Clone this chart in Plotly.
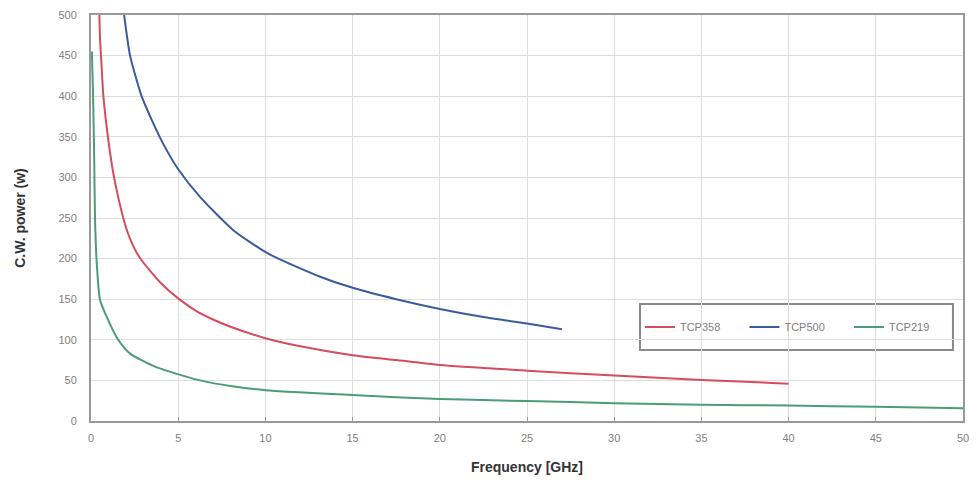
import plotly.graph_objects as go

# TCP500 (blue)
f_500 = [1.9, 2.24, 2.9, 3.5, 4.15, 5.0, 6.25, 8.16, 10.17, 13.1, 15, 17.5, 20, 22.5, 25, 27]
p_500 = [500, 450, 400, 370, 341, 310, 276, 235, 206, 178, 164, 150, 138, 128, 120, 113]

# TCP358 (red)
f_358 = [0.48, 0.52, 0.6, 0.71, 1.0, 1.28, 1.6, 1.85, 2.14, 2.5, 2.9, 4, 5, 6, 7, 8, 10, 12, 15, 17.5, 20, 25, 30, 35, 40]
p_358 = [500, 470, 440, 400, 345, 305, 272, 250, 230, 212, 198, 170, 151, 136, 125, 116, 102, 92, 81, 75, 69, 62, 56, 50.5, 46]

# TCP219 (green)
f_219 = [0.05, 0.12, 0.18, 0.23, 0.32, 0.52, 0.99, 1.56, 2.24, 3.67, 5.4, 6.25, 8, 10, 15, 20, 25, 30, 35, 40, 45, 50]
p_219 = [455, 400, 330, 250, 198, 149, 124, 100, 83, 67, 55, 50, 43, 38, 32, 27, 24.6, 22, 20, 19, 17.5, 15.6]

x_ticks = [0, 5, 10, 15, 20, 25, 30, 35, 40, 45, 50]
y_ticks = [0, 50, 100, 150, 200, 250, 300, 350, 400, 450, 500]

fig = go.Figure()
fig.add_trace(go.Scatter(x=f_358, y=p_358, mode="lines", name="TCP358",
                         line=dict(color="#d64c5e", width=2, shape="spline", smoothing=0.6)))
fig.add_trace(go.Scatter(x=f_500, y=p_500, mode="lines", name="TCP500",
                         line=dict(color="#3b5c9c", width=2, shape="spline", smoothing=0.6)))
fig.add_trace(go.Scatter(x=f_219, y=p_219, mode="lines", name="TCP219",
                         line=dict(color="#4c9c78", width=2, shape="spline", smoothing=0.6)))

# legend frame
fig.add_shape(type="rect", xref="paper", yref="paper",
              x0=0.6296, x1=0.9885, y0=0.175, y1=0.288,
              line=dict(color="#8a8a8a", width=2), fillcolor="white", layer="between")

fig.update_layout(
    width=980, height=488,
    margin=dict(l=91, r=17, t=15, b=67, autoexpand=False),
    paper_bgcolor="white", plot_bgcolor="white",
    font=dict(family="Liberation Sans, Arial, sans-serif", size=11, color="#808080"),
    showlegend=True,
    legend=dict(orientation="h", x=0.6295, y=0.2315, xanchor="left", yanchor="middle",
                bgcolor="rgba(0,0,0,0)", borderwidth=0,
                font=dict(size=11, color="#808080"), itemwidth=30,
                entrywidth=59.5),
)
fig.update_xaxes(
    range=[0, 50], tickvals=x_ticks, ticktext=[str(v) for v in x_ticks],
    showgrid=True, gridcolor="#dddddd", gridwidth=1,
    showline=True, linecolor="#999999", linewidth=2, mirror=True,
    ticks="inside", ticklen=4, tickcolor="#999999",
    ticklabelstandoff=6,
    zeroline=False,
    title=dict(text="<b>Frequency [GHz]</b>", font=dict(size=14, color="#333333"), standoff=19),
)
fig.update_yaxes(
    range=[0, 500], tickvals=y_ticks, ticktext=[str(v) for v in y_ticks],
    showgrid=True, gridcolor="#dddddd", gridwidth=1,
    showline=True, linecolor="#999999", linewidth=2, mirror=True,
    ticks="", ticklen=4,
    ticklabelstandoff=10,
    zeroline=False,
    title=dict(text="<b>C.W. power (w)</b>", font=dict(size=14, color="#333333"), standoff=30),
)

fig.write_html("out.html")
